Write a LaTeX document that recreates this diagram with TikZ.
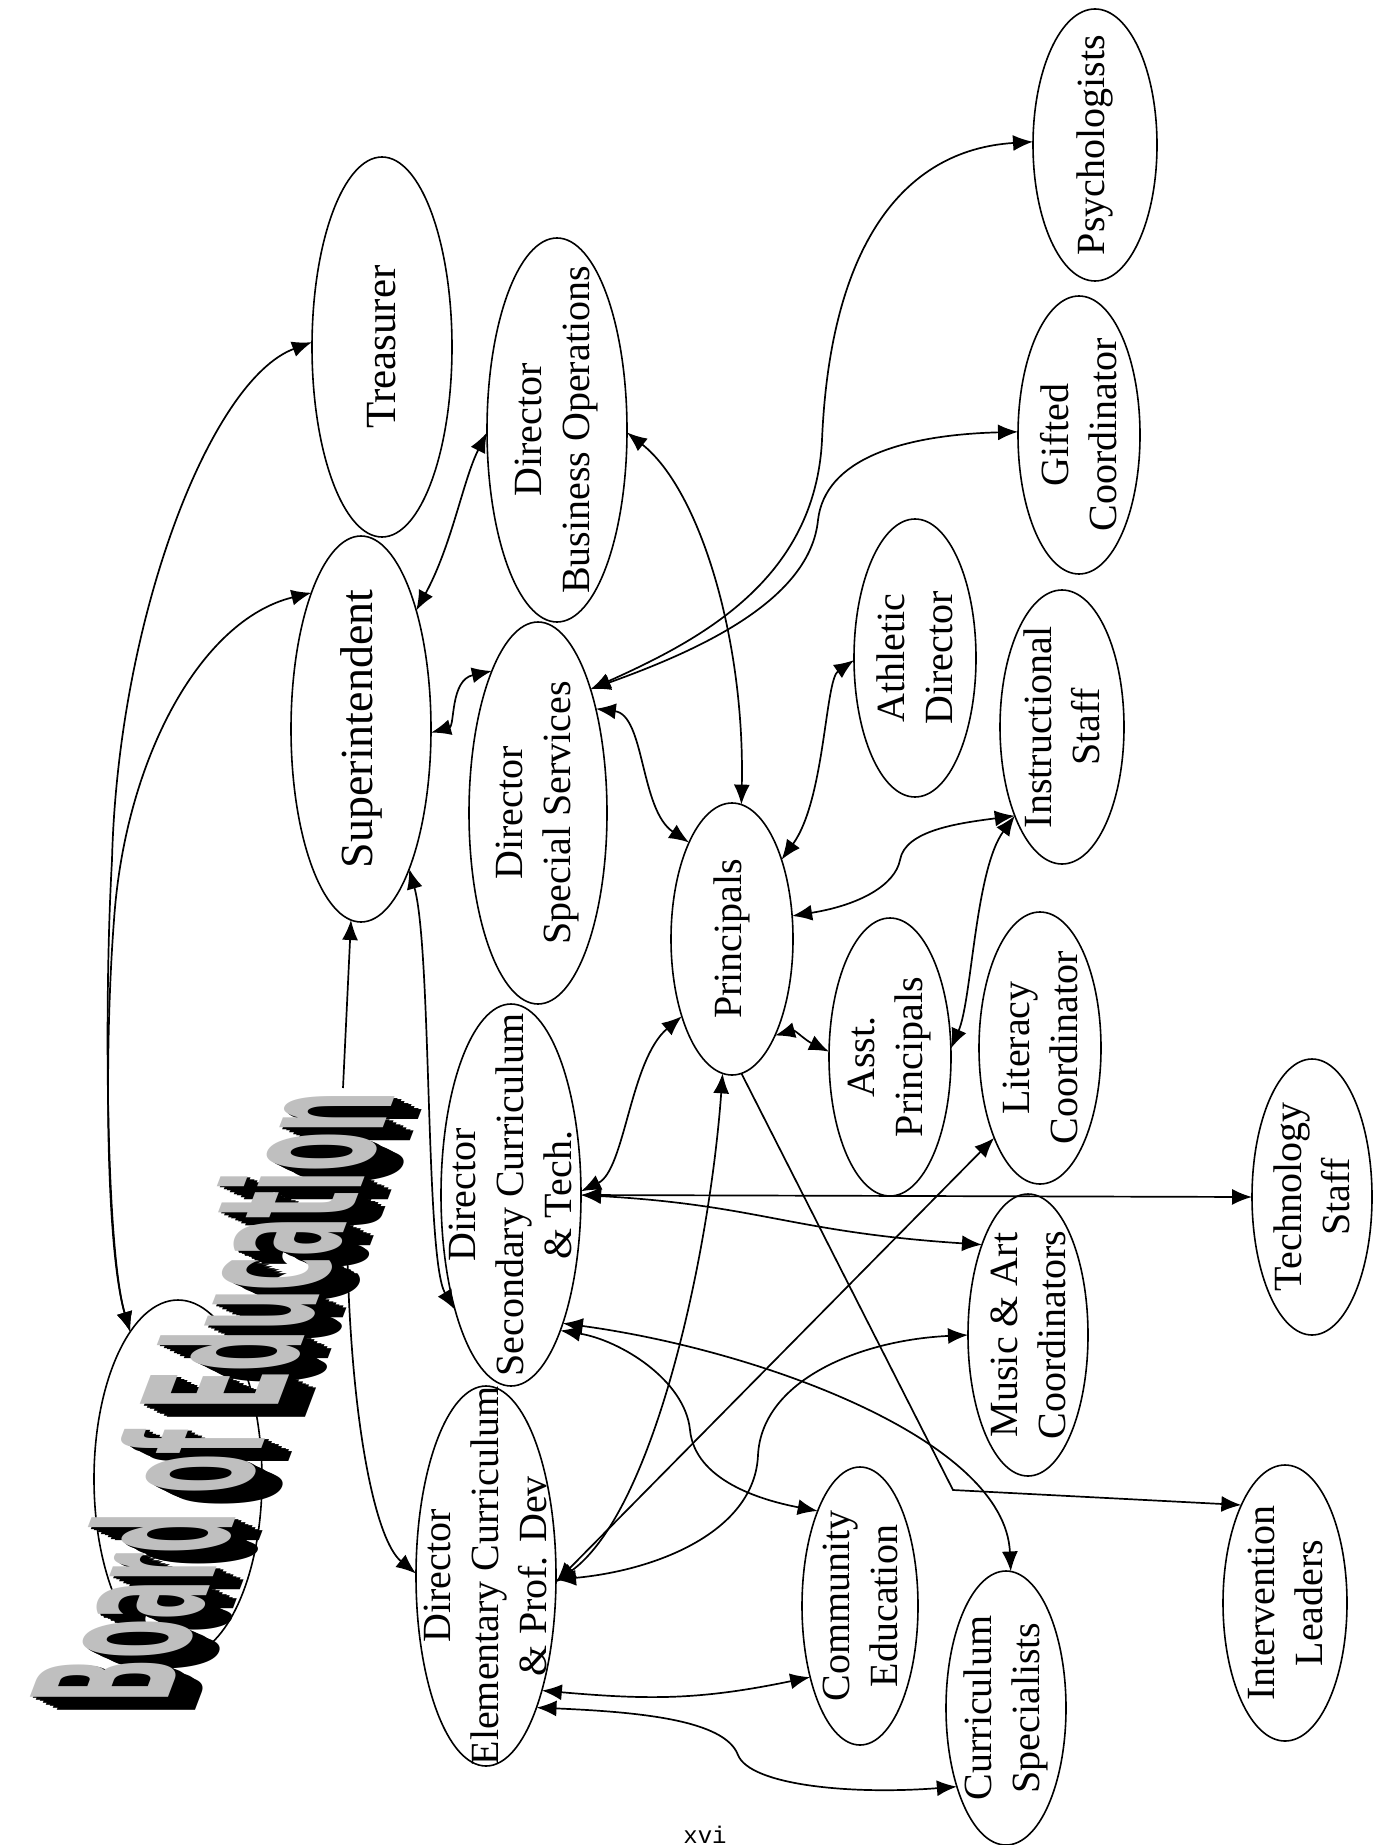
\documentclass[tikz,border=0pt]{standalone}
\usepackage{fontspec}
\setmainfont{Liberation Serif}
\newfontfamily\wafont{DejaVu Sans}
\newfontfamily\pagefont{Liberation Mono}
\usetikzlibrary{shapes.geometric,arrows.meta}
\newcommand{\wordart}{\resizebox{326pt}{72pt}{\wafont\bfseries Board of Education}}
\begin{document}
\begin{tikzpicture}[x=0.5pt,y=-0.5pt,
  ell/.style={draw,ellipse,line width=0.8pt,inner sep=0pt,outer sep=0pt},
  lbl/.style={rotate=90,align=center,inner sep=0pt,font=\fontsize{20}{24}\selectfont},
  conn/.style={line width=0.85pt,{Latex[length=10pt,width=8pt]}-{Latex[length=10pt,width=8pt]}},
  conn1/.style={line width=0.85pt,-{Latex[length=10pt,width=8pt]}},
  wa/.style={transform shape,anchor=base west,inner sep=0pt,outer sep=0pt}]
\useasboundingbox (0,0) rectangle (1384,1845);

% ellipses
\node[ell,minimum width=70pt,minimum height=190pt] (treas) at (382,347) {};
\node[ell,minimum width=70pt,minimum height=192pt] (busops) at (557,430) {};
\node[ell,minimum width=70pt,minimum height=193pt] (sup) at (361,729) {};
\node[ell,minimum width=69pt,minimum height=191pt] (spec) at (538,813) {};
\node[ell,minimum width=70pt,minimum height=191pt] (sec) at (511,1195) {};
\node[ell,minimum width=70pt,minimum height=190pt] (elem) at (486,1576) {};
\node[ell,minimum width=84pt,minimum height=179pt] (board) at (178,1479) {};
\node[ell,minimum width=62pt,minimum height=136pt] (psych) at (1095,145) {};
\node[ell,minimum width=61pt,minimum height=139pt] (gifted) at (1079,435) {};
\node[ell,minimum width=61pt,minimum height=139pt] (athl) at (915,658) {};
\node[ell,minimum width=62pt,minimum height=137pt] (instr) at (1062,727) {};
\node[ell,minimum width=61pt,minimum height=136pt] (princ) at (732,939) {};
\node[ell,minimum width=61pt,minimum height=139pt] (asst) at (890,1057) {};
\node[ell,minimum width=61pt,minimum height=136pt] (lit) at (1040,1048) {};
\node[ell,minimum width=60pt,minimum height=138pt] (tech) at (1312,1197) {};
\node[ell,minimum width=60pt,minimum height=141pt] (music) at (1028,1335) {};
\node[ell,minimum width=62pt,minimum height=138pt] (interv) at (1285,1603) {};
\node[ell,minimum width=58pt,minimum height=139pt] (comm) at (860,1606) {};
\node[ell,minimum width=60pt,minimum height=137pt] (cspec) at (1006,1708) {};

% labels
\node[lbl,font=\fontsize{21.5}{24}\selectfont] (treas-t) at (treas) {Treasurer};
\node[lbl] (busops-t) at (busops) {Director\\Business Operations};
\node[lbl,font=\fontsize{23}{24}\selectfont] (sup-t) at (sup) {Superintendent};
\node[lbl] (spec-t) at (spec) {Director\\Special Services};
\node[lbl] (sec-t) at (sec) {Director\\Secondary Curriculum\\\& Tech.};
\node[lbl] (elem-t) at (elem) {Director\\Elementary Curriculum\\\& Prof. Dev};
\node[lbl] (psych-t) at (psych) {Psychologists};
\node[lbl] (gifted-t) at (gifted) {Gifted\\Coordinator};
\node[lbl] (athl-t) at (athl) {Athletic\\Director};
\node[lbl] (instr-t) at (instr) {Instructional\\Staff};
\node[lbl] (princ-t) at (princ) {Principals};
\node[lbl] (asst-t) at (asst) {Asst.\\Principals};
\node[lbl] (lit-t) at (lit) {Literacy\\Coordinator};
\node[lbl] (tech-t) at (tech) {Technology\\Staff};
\node[lbl] (music-t) at (music) {Music \& Art\\Coordinators};
\node[lbl] (interv-t) at (interv) {Intervention\\Leaders};
\node[lbl] (comm-t) at (comm) {Community\\Education};
\node[lbl] (cspec-t) at (cspec) {Curriculum\\Specialists};

% connectors
\coordinate (bwtop) at (343,1088);
\coordinate (bwbot) at (347,1238);
\coordinate (bend1) at (112,860);
\coordinate (bend2) at (114,920);
\draw[conn] (board.108) .. controls (106,1250) and (104,1000) .. (bend1) .. controls (118,620) and (210,380) .. (treas.176);
\draw[conn] (board.108) .. controls (106,1250) and (104,1050) .. (bend2) .. controls (125,760) and (200,620) .. (sup.110);
\draw[conn1] (bwtop) -- (sup.-93);
\draw[conn1] (bwbot) .. controls (350,1420) and (375,1540) .. (elem.178);
\draw[conn] (sup.65) .. controls (452,545) and (463,480) .. (busops.182);
\draw[conn] (sup.-3) .. controls (455,726) and (450,680) .. (spec.108);
\draw[conn] (sup.-71) .. controls (432,950) and (425,1260) .. (sec.-116);
\draw[conn] (busops.-2) .. controls (700,490) and (745,640) .. (princ.86);
\coordinate (ps1) at (822,440);
\coordinate (gf1) at (818,520);
\draw[conn] (spec.67) .. controls (700,640) and (815,580) .. (ps1) .. controls (830,250) and (900,150) .. (psych.177);
\draw[conn] (spec.67) .. controls (700,650) and (810,600) .. (gf1) .. controls (825,460) and (900,435) .. (gifted.177);
\draw[conn] (spec.61) .. controls (645,715) and (640,810) .. (princ.114);
\draw[conn] (athl.182) .. controls (825,680) and (825,800) .. (princ.58);
\coordinate (in1) at (900,860);
\draw[conn] (princ.21) .. controls (860,905) and (895,885) .. (in1) .. controls (905,830) and (960,823) .. (instr.-118);
\draw[conn] (asst.8) .. controls (972,1000) and (975,870) .. (instr.-118);
\draw[conn] (princ.-66) .. controls (795,1030) and (805,1040) .. (asst.175);
\draw[conn] (princ.-123) .. controls (630,1060) and (625,1170) .. (sec.3);
\draw[conn] (sec.0) -- (tech.180);
\draw[conn] (sec.0) .. controls (760,1205) and (790,1232) .. (music.117);
\coordinate (cm1) at (690,1430);
\draw[conn] (sec.-70) .. controls (620,1340) and (685,1380) .. (cm1) .. controls (695,1480) and (760,1500) .. (comm.114);
\draw[conn] (sec.-68) .. controls (760,1350) and (1005,1440) .. (cspec.88);
\draw[conn] (elem.-5) .. controls (655,1510) and (710,1250) .. (princ.-94);
\draw[conn] (elem.-64) .. controls (650,1700) and (700,1700) .. (comm.-125);
\coordinate (cs1) at (738,1755);
\draw[conn] (elem.-69) .. controls (640,1712) and (725,1720) .. (cs1) .. controls (750,1785) and (850,1795) .. (cspec.-122);
\coordinate (iv1) at (953,1490);
\draw[conn1] (princ.-86) -- (iv1) -- (interv.114);
\coordinate (mu1) at (758,1455);
\draw[conn] (elem.-3) .. controls (660,1570) and (755,1530) .. (mu1) .. controls (762,1380) and (860,1340) .. (music.180);
\draw[conn] (elem.-5) -- (lit.-117);

% word art (slanted 3D lettering)
\begin{scope}[cm={0.354,0.935,-1,0,(166,1702)}]
  \foreach \t in {1,0.875,0.75,0.625,0.5,0.375,0.25,0.125} {
    \node[wa,text=black] (wa\t) at (-14*\t,32*\t) {\wordart};
  }
  \node[wa,text=black!25] (boardtxt) at (0,0) {\wordart};
\end{scope}

% page number
\node[anchor=base,inner sep=0pt,font=\pagefont\fontsize{12}{12}\selectfont] (pg) at (705,1843) {xvi};
\end{tikzpicture}
\end{document}
